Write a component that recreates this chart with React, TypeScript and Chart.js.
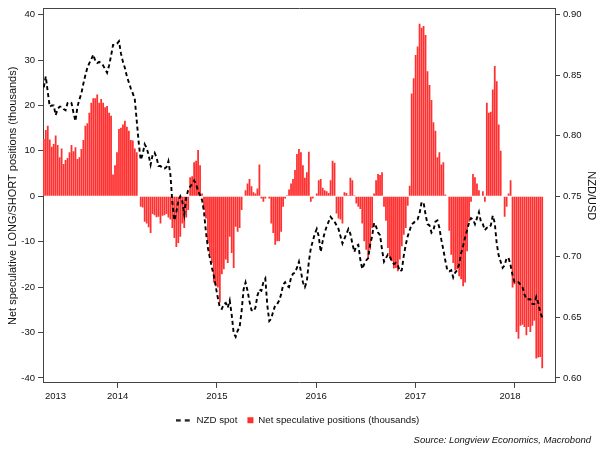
import { useEffect, useRef } from "react";
import { Chart, registerables } from "chart.js";

Chart.register(...registerables);

// ---- data ----
const firstWeek = "2013-10-04";
const lastWeek = "2018-10-12";
const axisStart = "2013-10-01";
const axisEnd = "2018-11-28";

const yearBoundaries = [2014, 2015, 2016, 2017, 2018];
const yearLabels = ["2013", "2014", "2015", "2016", "2017", "2018"];
const positionTicks = [-40, -30, -20, -10, 0, 10, 20, 30, 40];
const nzdTicks = [0.6, 0.65, 0.7, 0.75, 0.8, 0.85, 0.9];

const positionRange = [-41.1, 41.3];
const nzdRange = [0.5959, 0.9049];

const positions = [
  12.6, 14.6, 15.5, 12.5, 10.9, 11.5, 13.4, 11.3, 8.6, 10.5,
  7.1, 8.0, 8.4, 9.7, 11.3, 9.9, 10.8, 8.2, 8.6, 10.4,
  12.4, 15.5, 16.1, 18.4, 20.6, 21.6, 21.6, 22.4, 20.6, 21.4,
  20.6, 19.6, 19.9, 18.4, 17.7, 4.8, 6.8, 9.7, 14.8, 15.1,
  15.8, 16.6, 15.3, 14.4, 12.4, 12.3, 10.5, 9.7, 0.1, -2.3,
  -2.5, -5.6, -6.0, -6.8, -8.1, -3.9, -4.2, -4.6, -4.5, -6.0,
  -4.3, -4.2, -3.9, -4.7, -5.1, -7.0, -9.2, -11.2, -10.3, -8.9,
  -6.0, -7.0, -4.7, -3.0, 4.2, 4.4, 7.5, 7.8, 10.2, 6.8,
  0.6, -3.0, -4.9, -10.3, -12.9, -14.7, -19.0, -19.8, -20.1, -23.4,
  -17.2, -16.1, -13.9, -14.7, -8.9, -12.5, -15.8, -6.7, -7.8, -7.0,
  -3.0, 0.1, 1.3, 2.8, 3.8, 2.2, 0.9, 0.6, 1.7, 7.0,
  -0.5, -1.2, -0.5, 0.1, -0.5, -6.0, -8.1, -10.7, -9.9, -9.9,
  -7.8, -2.3, -0.5, 0.2, 1.5, 2.8, 3.8, 5.8, 9.3, 10.4,
  9.7, 6.8, 4.1, 5.3, 9.8, -1.2, -0.5, -0.1, 0.6, 3.5,
  3.8, 1.9, 1.3, 1.1, 0.7, 3.5, 7.8, 7.4, -3.8, -4.9,
  -5.1, -6.0, 0.9, 0.7, 0.2, 4.1, 3.5, 0.2, -1.6, -2.3,
  -2.8, -6.0, -9.9, -11.8, -13.7, -11.8, -7.0, 0.6, 3.5, 4.9,
  4.7, 5.3, -2.3, -5.4, -11.4, -13.6, -14.3, -15.9, -15.8, -16.5,
  -13.9, -11.0, -8.5, -7.0, -2.1, 2.3, 22.6, 26.0, 31.1, 33.0,
  38.0, 37.1, 37.5, 35.5, 27.5, 24.5, 21.2, 16.3, 14.4, 8.6,
  9.7, 7.0, 7.5, 0.4, -0.1, -7.6, -12.9, -14.7, -16.3, -16.1,
  -17.6, -18.3, -19.8, -19.0, -12.1, -5.6, -1.2, 4.9, 4.2, 2.8,
  1.3, 0.1, 1.1, -1.2, 20.6, 18.4, 18.6, 23.5, 28.7, 25.3,
  15.8, 10.0, 0.1, -4.5, -2.3, 0.6, 3.5, -20.1, -19.4, -29.9,
  -31.4, -28.5, -28.3, -28.8, -30.6, -28.8, -29.9, -28.5, -27.4, -35.7,
  -35.5, -35.4, -37.9,
];

const nzdSpot = [
  0.840, 0.849, 0.836, 0.824, 0.825, 0.825, 0.817, 0.822, 0.824, 0.824,
  0.822, 0.821, 0.827, 0.828, 0.827, 0.819, 0.812, 0.824, 0.830, 0.835,
  0.843, 0.850, 0.856, 0.860, 0.863, 0.867, 0.862, 0.860, 0.861, 0.860,
  0.858, 0.855, 0.852, 0.858, 0.866, 0.875, 0.875, 0.876, 0.878, 0.868,
  0.861, 0.856, 0.849, 0.844, 0.839, 0.835, 0.830, 0.812, 0.794, 0.780,
  0.785, 0.793, 0.790, 0.784, 0.776, 0.784, 0.786, 0.782, 0.775, 0.775,
  0.773, 0.773, 0.774, 0.779, 0.768, 0.745, 0.730, 0.737, 0.746, 0.750,
  0.746, 0.735, 0.749, 0.755, 0.758, 0.760, 0.763, 0.760, 0.754, 0.751,
  0.747, 0.737, 0.720, 0.707, 0.699, 0.691, 0.684, 0.675, 0.666, 0.658,
  0.657, 0.661, 0.662, 0.658, 0.664, 0.652, 0.637, 0.634, 0.639, 0.642,
  0.655, 0.673, 0.679, 0.672, 0.663, 0.656, 0.655, 0.658, 0.668, 0.673,
  0.672, 0.679, 0.682, 0.660, 0.647, 0.649, 0.655, 0.660, 0.661, 0.664,
  0.669, 0.677, 0.679, 0.676, 0.675, 0.683, 0.686, 0.687, 0.691, 0.696,
  0.688, 0.679, 0.675, 0.680, 0.696, 0.707, 0.713, 0.719, 0.723, 0.717,
  0.704, 0.713, 0.720, 0.725, 0.729, 0.733, 0.731, 0.729, 0.726, 0.723,
  0.717, 0.711, 0.715, 0.719, 0.723, 0.719, 0.711, 0.704, 0.709, 0.710,
  0.698, 0.690, 0.694, 0.697, 0.699, 0.710, 0.717, 0.728, 0.725, 0.720,
  0.718, 0.706, 0.696, 0.699, 0.702, 0.700, 0.696, 0.694, 0.695, 0.693,
  0.688, 0.689, 0.701, 0.710, 0.717, 0.722, 0.727, 0.728, 0.730, 0.731,
  0.736, 0.745, 0.745, 0.735, 0.727, 0.726, 0.720, 0.722, 0.729, 0.730,
  0.724, 0.714, 0.706, 0.697, 0.689, 0.688, 0.689, 0.683, 0.687, 0.689,
  0.694, 0.703, 0.709, 0.716, 0.722, 0.728, 0.732, 0.731, 0.727, 0.732,
  0.737, 0.729, 0.727, 0.722, 0.724, 0.724, 0.726, 0.734, 0.728, 0.711,
  0.701, 0.696, 0.691, 0.693, 0.699, 0.699, 0.693, 0.685, 0.679, 0.679,
  0.679, 0.677, 0.675, 0.669, 0.665, 0.665, 0.665, 0.661, 0.661, 0.667,
  0.662, 0.654, 0.650,
];

const sourceText = "Source: Longview Economics, Macrobond";

// ---- helpers ----
function toYear(d: string): number {
  const dt = new Date(d + "T00:00:00Z");
  const y = dt.getUTCFullYear();
  const s = Date.UTC(y, 0, 1);
  const e = Date.UTC(y + 1, 0, 1);
  return y + (dt.getTime() - s) / (e - s);
}

const FONT = '"Liberation Sans", Arial, Helvetica, sans-serif';
const AXIS = "#444444";
const TEXT = "#111111";

export default function App() {
  const ref = useRef<HTMLCanvasElement | null>(null);

  useEffect(() => {
    const canvas = ref.current;
    if (!canvas) return;
    Chart.defaults.font.family = FONT;

    const x0 = toYear(firstWeek);
    const x1 = toYear(lastWeek);
    const n = positions.length;
    const weeks = positions.map((_, i) => x0 + ((x1 - x0) * i) / (n - 1));
    const xMin = toYear(axisStart);
    const xMax = toYear(axisEnd);
    const labelPos = yearLabels.map((l) => {
      const y = Number(l);
      const lo = Math.max(y, xMin);
      const hi = Math.min(y + 1, xMax);
      return (lo + hi) / 2;
    });

    // dashed legend sample for the line series (drawn on the left part of the image)
    const dash = document.createElement("canvas");
    dash.width = 26;
    dash.height = 3;
    const dctx = dash.getContext("2d");
    if (dctx) {
      dctx.strokeStyle = "#000";
      dctx.lineWidth = 1.8;
      dctx.setLineDash([5, 4]);
      dctx.beginPath();
      dctx.moveTo(0, 1.5);
      dctx.lineTo(15, 1.5);
      dctx.stroke();
    }

    const sourcePlugin = {
      id: "sourceNote",
      afterDraw(chart: any) {
        const ctx = chart.ctx;
        ctx.save();
        ctx.font = `italic 9.5px ${FONT}`;
        ctx.fillStyle = TEXT;
        ctx.textAlign = "right";
        ctx.textBaseline = "middle";
        ctx.fillText(sourceText, chart.width - 14, 440);
        ctx.restore();
      },
    };

    const chart = new Chart(canvas, {
      type: "bar",
      data: {
        datasets: [
          {
            type: "line",
            label: "NZD spot",
            data: weeks.map((x, i) => ({ x, y: nzdSpot[i] })),
            xAxisID: "x",
            yAxisID: "y2",
            borderColor: "#000000",
            backgroundColor: "#000000",
            borderWidth: 1.9,
            borderDash: [4, 3],
            pointRadius: 0,
            pointHoverRadius: 0,
            pointStyle: dash as any,
            tension: 0,
            fill: false,
            order: 0,
          } as any,
          {
            type: "bar",
            label: "Net speculative positions (thousands)",
            data: weeks.map((x, i) => ({ x, y: positions[i] })),
            xAxisID: "x",
            yAxisID: "y",
            backgroundColor: "#ff3030",
            borderWidth: 0,
            categoryPercentage: 1,
            barPercentage: 0.9,
            pointStyle: "rect",
            order: 1,
          } as any,
        ],
      },
      options: {
        responsive: false,
        animation: false,
        layout: { padding: { top: 7, bottom: 19, left: 0, right: 0 } },
        plugins: {
          legend: {
            display: true,
            position: "bottom",
            labels: {
              usePointStyle: true,
              boxHeight: 6,
              boxWidth: 6,
              padding: 10,
              color: TEXT,
              font: { size: 9.7, family: FONT },
            },
          },
          tooltip: { enabled: false },
        },
        scales: {
          x: {
            type: "linear",
            position: "bottom",
            min: xMin,
            max: xMax,
            offset: false,
            grid: { drawOnChartArea: false, drawTicks: true, tickLength: 5, color: AXIS },
            border: { display: true, color: AXIS },
            ticks: { display: false },
            afterBuildTicks: (s: any) => {
              s.ticks = yearBoundaries.map((v) => ({ value: v }));
            },
          },
          xl: {
            type: "linear",
            position: "bottom",
            min: xMin,
            max: xMax,
            offset: false,
            grid: { display: false, drawTicks: false, tickLength: 0 },
            border: { display: false },
            ticks: {
              padding: 3,
              autoSkip: false,
              maxRotation: 0,
              color: TEXT,
              font: { size: 9.5, family: FONT },
              callback: (_v: any, i: number) => yearLabels[i],
            },
            afterBuildTicks: (s: any) => {
              s.ticks = labelPos.map((v) => ({ value: v }));
            },
          },
          xt: {
            type: "linear",
            position: "top",
            min: xMin,
            max: xMax,
            grid: { display: false, drawTicks: false, tickLength: 0 },
            border: { display: true, color: AXIS },
            ticks: { display: false },
          },
          y: {
            type: "linear",
            position: "left",
            min: positionRange[0],
            max: positionRange[1],
            grid: { drawOnChartArea: false, drawTicks: true, tickLength: 5, color: AXIS },
            border: { display: true, color: AXIS },
            ticks: {
              padding: 3,
              autoSkip: false,
              color: TEXT,
              font: { size: 9.5, family: FONT },
              callback: (v: any) => String(v),
            },
            afterBuildTicks: (s: any) => {
              s.ticks = positionTicks.map((v) => ({ value: v }));
            },
            afterFit: (s: any) => {
              s.width = 43;
            },
            title: {
              display: true,
              text: "Net speculative LONG/SHORT positions (thousands)",
              color: TEXT,
              font: { size: 11, family: FONT },
              padding: { top: 6, bottom: 0 },
            },
          },
          y2: {
            type: "linear",
            position: "right",
            min: nzdRange[0],
            max: nzdRange[1],
            grid: { drawOnChartArea: false, drawTicks: true, tickLength: 5, color: AXIS },
            border: { display: true, color: AXIS },
            ticks: {
              padding: 3,
              autoSkip: false,
              color: TEXT,
              font: { size: 9.5, family: FONT },
              callback: (v: any) => Number(v).toFixed(2),
            },
            afterBuildTicks: (s: any) => {
              s.ticks = nzdTicks.map((v) => ({ value: v }));
            },
            afterFit: (s: any) => {
              s.width = 50;
            },
            title: {
              display: true,
              text: "NZD/USD",
              color: TEXT,
              font: { size: 11, family: FONT },
              padding: { top: 7, bottom: 0 },
            },
          },
        },
      } as any,
      plugins: [sourcePlugin],
    });

    return () => {
      chart.destroy();
    };
  }, []);

  return (
    <div
      style={{
        position: "fixed",
        left: 0,
        top: 0,
        width: 605,
        height: 454,
        background: "#ffffff",
      }}
    >
      <canvas ref={ref} width={605} height={454} style={{ display: "block" }} />
    </div>
  );
}
